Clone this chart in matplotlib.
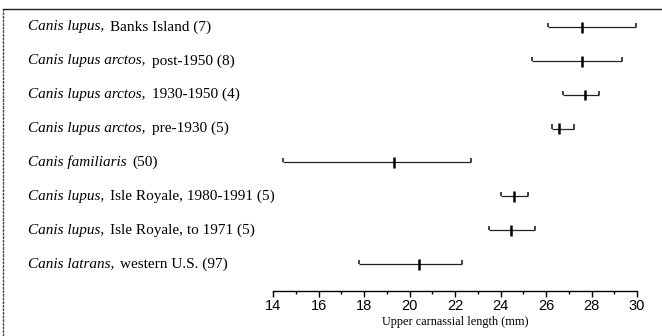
import matplotlib
matplotlib.use("Agg")
import matplotlib.pyplot as plt
from matplotlib.lines import Line2D

# groupes, du haut vers le bas
noms_italique = ["Canis lupus,", "Canis lupus arctos,", "Canis lupus arctos,",
                 "Canis lupus arctos,", "Canis familiaris", "Canis lupus,",
                 "Canis lupus,", "Canis latrans,"]
noms_suite = ["Banks Island (7)", "post-1950 (8)", "1930-1950 (4)", "pre-1930 (5)",
              "(50)", "Isle Royale, 1980-1991 (5)", "Isle Royale, to 1971 (5)",
              "western U.S. (97)"]
minimos = [26.1, 25.4, 26.75, 26.25, 14.45, 24.0, 23.5, 17.8]
medias = [27.6, 27.6, 27.7, 26.55, 19.3, 24.6, 24.45, 20.4]
maximos = [29.95, 29.35, 28.35, 27.25, 22.7, 25.2, 25.5, 22.3]
ticks_x = [14, 16, 18, 20, 22, 24, 26, 28, 30]

serif = ["Liberation Serif", "DejaVu Serif"]
narrow = ["Liberation Sans Narrow", "Liberation Sans", "DejaVu Sans"]

fig = plt.figure(figsize=(6.62, 3.36), dpi=100)
ax = fig.add_axes([273 / 662, 45 / 336, 364 / 662, 282 / 336])

n = len(medias)
ys = [n - i for i in range(n)]
cap = 0.12
for y, lo, m, hi in zip(ys, minimos, medias, maximos):
    ax.hlines(y, lo, hi, color="#222222", lw=0.9)
    ax.vlines([lo, hi], y, y + cap, color="#222222", lw=1.2)
    ax.vlines(m, y - 0.17, y + 0.15, color="black", lw=1.8)

ax.set_xlim(14, 30)
ax.set_ylim(0.2, n + 0.53)
ax.set_yticks([])
for s in ["top", "right", "left"]:
    ax.spines[s].set_visible(False)
ax.spines["bottom"].set_linewidth(1.0)
ax.set_xticks(ticks_x)
ax.set_xticks(range(15, 30, 2), minor=True)
ax.tick_params(axis="x", which="major", direction="out", length=4, width=1.0, pad=2)
ax.tick_params(axis="x", which="minor", direction="out", length=2.5, width=1.0)
for t in ax.get_xticklabels():
    t.set_family(narrow)
    t.set_fontsize(10.5)
ax.set_xlabel("Upper carnassial length (mm)", family=serif, fontsize=8.8, labelpad=2)

# etiquetas: parte en cursiva seguida de parte normal
renderer = fig.canvas.get_renderer()
for y, it, rest in zip(ys, noms_italique, noms_suite):
    yy = ax.transData.transform((0, y))[1]
    yf = fig.transFigure.inverted().transform((0, yy))[1]
    t1 = fig.text(28 / 662, yf, it, family=serif, style="italic", fontsize=11, va="center")
    bb = t1.get_window_extent(renderer)
    fig.text((bb.x1 + 6) / 662, yf, rest, family=serif, fontsize=11, va="center")

# marco de la figura
fig.add_artist(Line2D([3 / 662, 1], [1 - 9 / 336, 1 - 9 / 336], transform=fig.transFigure,
                      color="#222222", lw=1.0))
fig.add_artist(Line2D([3 / 662, 3 / 662], [0, 1 - 9 / 336], transform=fig.transFigure,
                      color="#444444", lw=1.0, ls=(0, (2, 0.6))))

fig.savefig("out.png", dpi=100)
